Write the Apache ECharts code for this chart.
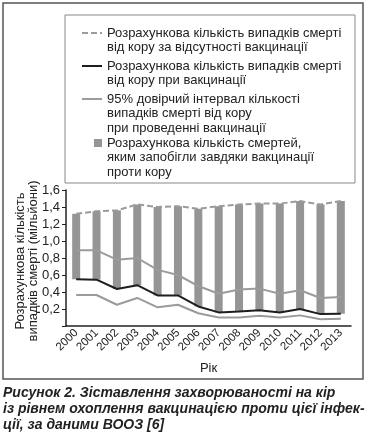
<!DOCTYPE html>
<html>
<head>
<meta charset="utf-8">
<script src="https://cdn.jsdelivr.net/npm/echarts@6/dist/echarts.min.js"></script>
<style>
  html, body { margin: 0; padding: 0; background: #fff; }
  #chart { width: 366px; height: 438px; }
</style>
</head>
<body>
<div id="chart"></div>
<script>
// роки
var years = ['2000','2001','2002','2003','2004','2005','2006','2007','2008','2009','2010','2011','2012','2013'];
// без вакцинації (пунктир)
var noVaccine = [1.32, 1.35, 1.36, 1.43, 1.40, 1.41, 1.38, 1.41, 1.43, 1.44, 1.44, 1.47, 1.43, 1.47];
// при вакцинації (чорна лінія)
var withVaccine = [0.55, 0.545, 0.435, 0.48, 0.36, 0.36, 0.23, 0.16, 0.17, 0.185, 0.16, 0.20, 0.14, 0.145];
// 95% довірчий інтервал
var ciUpper = [0.89, 0.89, 0.78, 0.80, 0.66, 0.60, 0.47, 0.38, 0.43, 0.44, 0.38, 0.42, 0.33, 0.34];
var ciLower = [0.365, 0.365, 0.25, 0.33, 0.22, 0.25, 0.15, 0.10, 0.10, 0.12, 0.10, 0.125, 0.08, 0.085];
// відвернені смерті = різниця (висота стовпчика)
var prevented = noVaccine.map(function (v, i) { return +(v - withVaccine[i]).toFixed(3); });

var yTicks = { min: 0, max: 1.6, interval: 0.2 };

var legendNames = [
    'Розрахункова кількість випадків смерті\nвід кору за відсутності вакцинації',
    'Розрахункова кількість випадків смерті\nвід кору при вакцинації',
    '95% довірчий інтервал кількості\nвипадків смерті від кору\nпри проведенні вакцинації',
    'Розрахункова кількість смертей,\nяким запобігли завдяки вакцинації\nпроти кору'
];

var FONT = '"Liberation Sans", Arial, sans-serif';
var TXT = '#222';

var chart = echarts.init(document.getElementById('chart'));

function legendText(x, y, s) {
    return { type: 'text', left: x, top: y, style: { text: s, font: '13px ' + FONT, fill: TXT, lineHeight: 14.5 } };
}

chart.setOption({
    backgroundColor: '#fff',
    animation: false,
    grid: { left: 66, right: 15, top: 190, bottom: 112 },
    xAxis: {
        type: 'category',
        data: years,
        boundaryGap: true,
        name: 'Рік',
        nameLocation: 'middle',
        nameGap: 36,
        nameTextStyle: { fontFamily: FONT, fontSize: 13, color: TXT },
        axisLine: { lineStyle: { color: '#222', width: 1.5 } },
        axisTick: { alignWithLabel: true, length: 4, interval: 0, lineStyle: { color: '#222' } },
        axisLabel: { rotate: 45, interval: 0, fontFamily: FONT, fontSize: 11.5, color: TXT, margin: 5 }
    },
    yAxis: {
        type: 'value',
        min: yTicks.min, max: yTicks.max, interval: yTicks.interval,
        axisLine: { show: true, lineStyle: { color: '#222', width: 1.5 } },
        axisTick: { show: true, length: 4, lineStyle: { color: '#222' } },
        splitLine: { show: false },
        axisLabel: {
            fontFamily: FONT, fontSize: 13, color: TXT, margin: 6,
            formatter: function (v) { return v === 0 ? '' : v.toFixed(1).replace('.', ','); }
        }
    },
    series: [
        { name: 'base', type: 'bar', stack: 'b', data: withVaccine, barWidth: 8,
          itemStyle: { color: 'transparent' }, silent: true, z: 1 },
        { name: 'prevented', type: 'bar', stack: 'b', data: prevented, barWidth: 8,
          itemStyle: { color: '#959595' }, z: 1 },
        { name: 'noVaccine', type: 'line', data: noVaccine, symbol: 'none',
          lineStyle: { color: '#9b9b9b', width: 2, type: [6, 3] }, z: 3 },
        { name: 'ciUpper', type: 'line', data: ciUpper, symbol: 'none',
          lineStyle: { color: '#9b9b9b', width: 2 }, z: 3 },
        { name: 'ciLower', type: 'line', data: ciLower, symbol: 'none',
          lineStyle: { color: '#9b9b9b', width: 2 }, z: 3 },
        { name: 'withVaccine', type: 'line', data: withVaccine, symbol: 'none',
          lineStyle: { color: '#1e1e1e', width: 2 }, z: 4 }
    ],
    graphic: [
        // рамка рисунка
        { type: 'rect', shape: { x: 3, y: 3, width: 360, height: 376 },
          style: { fill: null, stroke: '#555', lineWidth: 1.5 } },
        // назва осі Y
        { type: 'text', x: 27, y: 261, rotation: Math.PI / 2,
          style: { text: 'Розрахункова кількість\nвипадків смерті (мільйони)', font: '13px ' + FONT,
                   fill: TXT, lineHeight: 13, align: 'center', verticalAlign: 'middle' } },
        // рамка легенди
        { type: 'rect', shape: { x: 65, y: 15, width: 290, height: 168 },
          style: { fill: '#fff', stroke: '#888', lineWidth: 1 } },
        { type: 'line', shape: { x1: 82, y1: 33, x2: 102, y2: 33 },
          style: { stroke: '#9b9b9b', lineWidth: 2, lineDash: [6, 3] } },
        { type: 'line', shape: { x1: 82, y1: 66, x2: 102, y2: 66 },
          style: { stroke: '#1e1e1e', lineWidth: 2 } },
        { type: 'line', shape: { x1: 82, y1: 99, x2: 102, y2: 99 },
          style: { stroke: '#9b9b9b', lineWidth: 2 } },
        { type: 'rect', shape: { x: 94, y: 139, width: 8, height: 8 },
          style: { fill: '#959595' } },
        legendText(107, 26, legendNames[0]),
        legendText(107, 59, legendNames[1]),
        legendText(107, 92, legendNames[2]),
        legendText(107, 136, legendNames[3]),
        // підпис
        { type: 'text', left: 3, top: 385,
          style: { text: 'Рисунок 2. Зіставлення захворюваності на кір\nіз рівнем охоплення вакцинацією проти цієї інфек-\nції, за даними ВООЗ [6]',
                   font: 'italic bold 14px ' + FONT, fill: TXT, lineHeight: 16 } }
    ]
});
</script>
</body>
</html>
